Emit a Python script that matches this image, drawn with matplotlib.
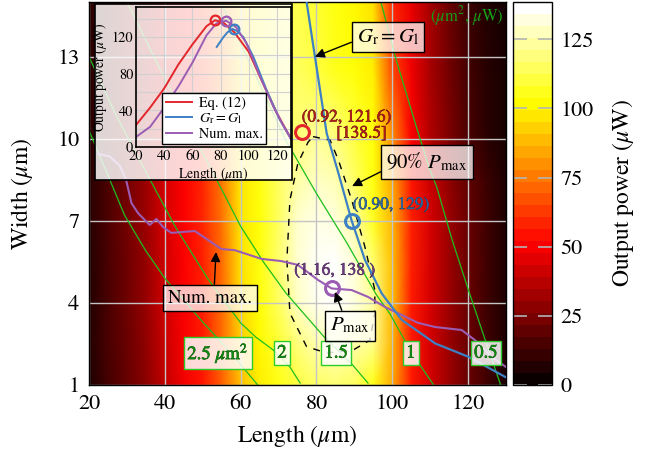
import numpy as np
import matplotlib
matplotlib.use('Agg')
import matplotlib.pyplot as plt
from matplotlib.patches import Rectangle
from matplotlib.colors import Normalize
import matplotlib.cm as cm
import matplotlib.patheffects as pe

plt.rcParams['font.family'] = ['STIXGeneral', 'Liberation Serif', 'DejaVu Serif']
plt.rcParams['mathtext.fontset'] = 'stix'

# ---------------- data ----------------
length_grid = [20, 25, 30, 35, 40, 45, 50, 55, 60, 65, 70, 75, 80, 85, 90, 95, 100, 105, 110, 115, 120, 125, 130]
width_grid = [1, 2.5, 4, 5.5, 7, 8.5, 10, 12.5, 15]
power_grid = [
    [4, 12, 19, 27, 38, 48, 55, 70, 90, 100, 106, 112, 117, 119, 116, 106, 86, 56, 42, 30, 20, 11, 4],
    [5, 13, 20, 28, 40, 49, 56, 72, 93, 102, 110, 120, 127, 129, 127, 122, 88, 56, 42, 30, 20, 11, 4],
    [5, 13, 21, 29, 41, 50, 57, 73, 96, 104, 116, 130, 136, 138, 134, 125, 90, 56, 42, 30, 20, 11, 4],
    [5, 13, 21, 29, 41, 50, 57, 73, 97, 105, 118, 132, 137, 138, 133, 118, 90, 57, 42, 30, 20, 11, 4],
    [6, 14, 22, 30, 42, 50, 58, 74, 98, 104, 116, 132, 135, 134, 126, 108, 88, 57, 42, 30, 20, 11, 4],
    [6, 14, 22, 30, 42, 50, 58, 75, 98, 105, 116, 126, 130, 128, 117, 105, 85, 55, 40, 28, 18, 10, 4],
    [6, 14, 22, 30, 42, 50, 58, 75, 98, 104, 112, 120, 124, 121, 112, 104, 80, 50, 35, 24, 14, 7, 3],
    [6, 14, 22, 30, 42, 50, 58, 75, 98, 104, 112, 116, 112, 107, 104, 100, 65, 48, 33, 22, 12, 6, 3],
    [6, 14, 22, 30, 42, 50, 58, 75, 96, 103, 112, 114, 110, 105, 102, 97, 58, 46, 32, 20, 10, 5, 2],
]
power_max = 138.5

# constant-area contours (um^2)
area_labels = ['2.5 $\\mu$m$^2$', '2', '1.5', '1', '0.5']
area_25_len = [20, 24.6, 29.4, 35, 40, 45, 50, 55, 60, 64.5]
area_25_wid = [10.3, 8.8, 7.2, 5.9, 4.9, 4.1, 3.3, 2.55, 1.75, 1.0]
area_20_len = [20, 27, 34.7, 42.7, 51.5, 60, 64, 68.6, 73, 75.7]
area_20_wid = [13.0, 10.9, 8.87, 6.8, 4.85, 3.27, 2.75, 2.28, 1.66, 1.07]
area_15_len = [30, 40, 52.3, 60, 66, 71.9, 82, 89.1, 93.6]
area_15_wid = [15.0, 12.2, 8.87, 6.8, 5.5, 4.37, 2.76, 1.8, 1.07]
area_10_len = [54.7, 63, 71.7, 80, 88, 95.8, 99.4, 104.9, 110.9]
area_10_wid = [15.0, 12.6, 10.0, 8.0, 6.2, 4.3, 3.6, 2.22, 1.0]
area_05_len = [97, 101, 106, 109.8, 111.7, 115.8, 120.5, 125.6, 128.6]
area_05_wid = [15.0, 12.9, 10.6, 8.9, 8.25, 6.3, 4.3, 2.2, 1.0]
area_label_len = [54.0, 70.9, 85.2, 104.9, 124.7]
area_label_wid = [2.17, 2.17, 2.17, 2.17, 2.17]

# G_r = G_l line
grgl_len = [77.4, 79.6, 82.7, 85.8, 89.3, 92.8, 97.2, 102.5, 111.3, 120.1, 130]
grgl_wid = [15.0, 13.0, 10.2, 8.74, 7.0, 5.57, 4.35, 3.38, 2.52, 2.03, 1.28]

# numerical maximum line
nummax_len = [22.5, 25.5, 28.2, 29.8, 31.2, 32.9, 36.0, 37.8, 39.5, 41.7, 47.9, 54.9, 58.4,
              65.5, 70.7, 75.1, 80.4, 84.0, 89.3, 93.6, 98.1, 102.5, 106.8, 111.3, 118.3,
              121.8, 126.2, 130]
nummax_wid = [9.45, 9.35, 9.0, 8.49, 7.65, 7.29, 6.85, 7.07, 6.78, 6.56, 6.63, 5.97, 5.93,
              5.61, 5.53, 5.39, 4.84, 4.53, 4.47, 4.22, 3.85, 3.56, 3.27, 3.12, 3.01,
              2.64, 2.02, 1.66]

# 90% P_max contour
p90_len = [79.1, 83.6, 85.8, 89.3, 92.8, 95.4, 95.4, 94.1, 89.7, 82.7, 77.4, 73.0, 72.2, 73.0, 75.1, 77.8, 79.1]
p90_wid = [10.08, 9.95, 9.22, 7.76, 6.04, 4.47, 3.63, 2.64, 2.28, 2.17, 2.40, 3.63, 5.57, 7.76, 9.11, 9.88, 10.08]

# optimum points (length, width)
eq12_point = (76.1, 10.26)
grgl_point = (89.3, 7.0)
nummax_point = (84.0, 4.53)
eq12_text = '(0.92, 121.6)'
eq12_text2 = '[138.5]'
grgl_text = '(0.90, 129)'
nummax_text = '(1.16, 138 )'

# inset: output power along the lines
inset_eq12_len = [20, 30, 40, 50, 60, 70, 76.1, 82, 90, 100, 110, 120, 130]
inset_eq12_pow = [24, 43, 64, 90, 112, 132, 138.5, 136, 125, 104, 70, 37, 9]
inset_grgl_len = [77.3, 82, 85, 88.6, 92, 96.2, 103.3, 112.7, 122.2, 130]
inset_grgl_pow = [109.4, 120, 125.5, 129, 126.5, 120, 98.5, 62, 29.4, 9]
inset_num_len = [20, 30, 40, 50, 60, 70, 77, 84, 91, 98.5, 108, 117.5, 125, 130]
inset_num_pow = [11, 22, 43, 66, 92, 122, 135, 138, 131, 113, 77, 44, 22, 9]
inset_points_len = [76.1, 89.3, 84.0]
inset_points_pow = [138.5, 129, 138]

x_ticks = [20, 40, 60, 80, 100, 120]
y_ticks = [1, 4, 7, 10, 13]
cbar_ticks = [0, 25, 50, 75, 100, 125]

# ---------------- figure ----------------
W_PX, H_PX = 658, 457
fig = plt.figure(figsize=(W_PX / 100, H_PX / 100), dpi=100)

def fbox(x0, y0, x1, y1):
    return [x0 / W_PX, 1 - y1 / H_PX, (x1 - x0) / W_PX, (y1 - y0) / H_PX]

ax = fig.add_axes(fbox(89, 2, 506, 385))
LL, WW = np.meshgrid(length_grid, width_grid)
ax.pcolormesh(LL, WW, np.array(power_grid, dtype=float), shading='gouraud',
              cmap='hot', vmin=0, vmax=power_max, zorder=0.5)
ax.set_xlim(20, 130)
ax.set_ylim(1, 15)
ax.set_xticks(x_ticks)
ax.set_yticks(y_ticks)
ax.set_axisbelow('line')
ax.grid(True, color='#c4c4c4', lw=1.0)
ax.tick_params(length=0, labelsize=16, pad=7)
ax.set_xlabel('Length ($\\mu$m)', fontsize=17, labelpad=6)
ax.set_ylabel('Width ($\\mu$m)', fontsize=17, labelpad=16)
for s in ax.spines.values():
    s.set_linewidth(1.0)

green = '#1cbf1c'
for xs, ys in [(area_25_len, area_25_wid), (area_20_len, area_20_wid), (area_15_len, area_15_wid),
               (area_10_len, area_10_wid), (area_05_len, area_05_wid)]:
    ax.plot(xs, ys, color=green, lw=0.9, zorder=2)

ax.plot(p90_len, p90_wid, color='black', lw=1.0, ls=(0, (5, 5)), zorder=2.5)

blue = '#3d80c4'
purple = '#9b5cb4'
red = '#e3262b'
ax.plot(nummax_len, nummax_wid, color=purple, lw=1.5, zorder=3)
ax.plot(grgl_len, grgl_wid, color=blue, lw=1.6, zorder=3)
ax.plot(*eq12_point, 'o', mfc='none', mec=red, ms=10, mew=2.2, zorder=4)
ax.plot(*grgl_point, 'o', mfc='none', mec=blue, ms=10, mew=2.2, zorder=4)
ax.plot(*nummax_point, 'o', mfc='none', mec=purple, ms=10, mew=2.2, zorder=4)

# contour labels
for lab, x, y in zip(area_labels, area_label_len, area_label_wid):
    ax.text(x, y, lab, ha='center', va='center', fontsize=13.5, color='#108a10', zorder=5,
            path_effects=[pe.withStroke(linewidth=0.45, foreground='#0a4a0a')],
            bbox=dict(boxstyle='square,pad=0.18', fc=(1, 1, 1, 0.85), ec='#2ccc2c', lw=1.0))
ax.text(119.7, 14.5, '($\\mu$m$^2$, $\\mu$W)', ha='center', va='center', fontsize=12,
        color='#16a016', zorder=5)

# point labels
def lab_fx(c):
    return [pe.withStroke(linewidth=0.4, foreground=c)]

ax.text(88.0, 10.78, eq12_text, ha='center', va='center', fontsize=12.5, color='#b01c1c',
        zorder=5, path_effects=lab_fx('#4a0a0a'))
ax.text(98.6, 10.19, eq12_text2, ha='right', va='center', fontsize=12.5, color='#b01c1c',
        zorder=5, path_effects=lab_fx('#4a0a0a'))
ax.text(99.7, 7.58, grgl_text, ha='center', va='center', fontsize=12.5, color='#2f68a3',
        zorder=5, path_effects=lab_fx('#14304e'))
ax.text(84.9, 5.18, nummax_text, ha='center', va='center', fontsize=12.5, color='#6b3a80',
        zorder=5, path_effects=lab_fx('#351a40'))

# annotations
box = dict(boxstyle='square,pad=0.25', fc=(1, 1, 1, 0.75), ec='black', lw=1.0)
arrow = dict(arrowstyle='-|>', color='black', lw=1.0, mutation_scale=14, shrinkA=0, shrinkB=0)
ax.annotate('$G_\\mathrm{r} = G_\\mathrm{l}$', xy=(79.6, 13.0), xytext=(98.9, 13.72),
            ha='center', va='center', fontsize=15, bbox=box, zorder=6,
            arrowprops=dict(arrow, relpos=(0.0, 0.35)))
ax.annotate('90% $P_\\mathrm{max}$', xy=(89.4, 8.27), xytext=(109.2, 9.15),
            ha='center', va='center', fontsize=15, bbox=box, zorder=6,
            arrowprops=dict(arrow, relpos=(0.0, 0.2)))
ax.annotate('Num. max.', xy=(53.5, 5.86), xytext=(51.9, 4.18),
            ha='center', va='center', fontsize=13.5, bbox=box, zorder=6,
            arrowprops=dict(arrow, relpos=(0.55, 1.0)))
ax.annotate('$P_\\mathrm{max}$', xy=(84.9, 4.4), xytext=(88.8, 3.16),
            ha='center', va='center', fontsize=15, bbox=box, zorder=6,
            arrowprops=dict(arrow, relpos=(0.35, 1.0)))

# ---------------- colorbar ----------------
cax = fig.add_axes(fbox(513, 2, 552, 385))
sm = cm.ScalarMappable(norm=Normalize(0, power_max), cmap=plt.get_cmap('hot').resampled(32))
cb = fig.colorbar(sm, cax=cax, ticks=cbar_ticks)
cb.ax.tick_params(direction='in', length=10, width=1.2, color='#b4b4b4', left=True, right=True,
                  labelsize=16, pad=6)
cb.outline.set_linewidth(1.0)
cb.set_label('Output power ($\\mu$W)', fontsize=17, labelpad=12)

# ---------------- inset ----------------
ov = Rectangle((95 / W_PX, 1 - 180 / H_PX), (292 - 95) / W_PX, (180 - 4) / H_PX,
               transform=fig.transFigure, fc=(1, 1, 1, 0.84), ec='black', lw=1.2, zorder=3)
fig.add_artist(ov)
ins = fig.add_axes(fbox(136, 7, 291, 147), zorder=4)
ins.patch.set_alpha(0)
ins.plot(inset_eq12_len, inset_eq12_pow, color=red, lw=1.4, label='Eq. (12)')
ins.plot(inset_grgl_len, inset_grgl_pow, color=blue, lw=1.4, label='$G_\\mathrm{r} = G_\\mathrm{l}$')
ins.plot(inset_num_len, inset_num_pow, color=purple, lw=1.4, label='Num. max.')
for x, y, c in zip(inset_points_len, inset_points_pow, [red, blue, purple]):
    ins.plot(x, y, 'o', mfc='none', mec=c, ms=7, mew=1.6)
ins.set_xlim(20, 130)
ins.set_ylim(0, 153)
ins.set_xticks([20, 40, 60, 80, 100, 120])
ins.set_yticks([0, 40, 80, 120])
ins.set_yticks([20, 60, 100, 140], minor=True)
ins.grid(True, which='both', color='#d0d0d0', lw=0.8)
ins.set_axisbelow(True)
ins.tick_params(which='both', length=0, labelsize=10.4, pad=2)
ins.set_xlabel('Length ($\\mu$m)', fontsize=9.8, labelpad=1)
ins.set_ylabel('Output power ($\\mu$W)', fontsize=9.8, labelpad=2)
for s in ins.spines.values():
    s.set_linewidth(1.2)
leg = ins.legend(loc='lower left', bbox_to_anchor=(0.17, 0.02), fontsize=10.3, frameon=True,
                 fancybox=False, edgecolor='black', framealpha=1, borderpad=0.25,
                 labelspacing=0.1, handlelength=1.8, handletextpad=0.5, borderaxespad=0)
leg.get_frame().set_linewidth(1.0)

fig.savefig('out.png', dpi=100)
